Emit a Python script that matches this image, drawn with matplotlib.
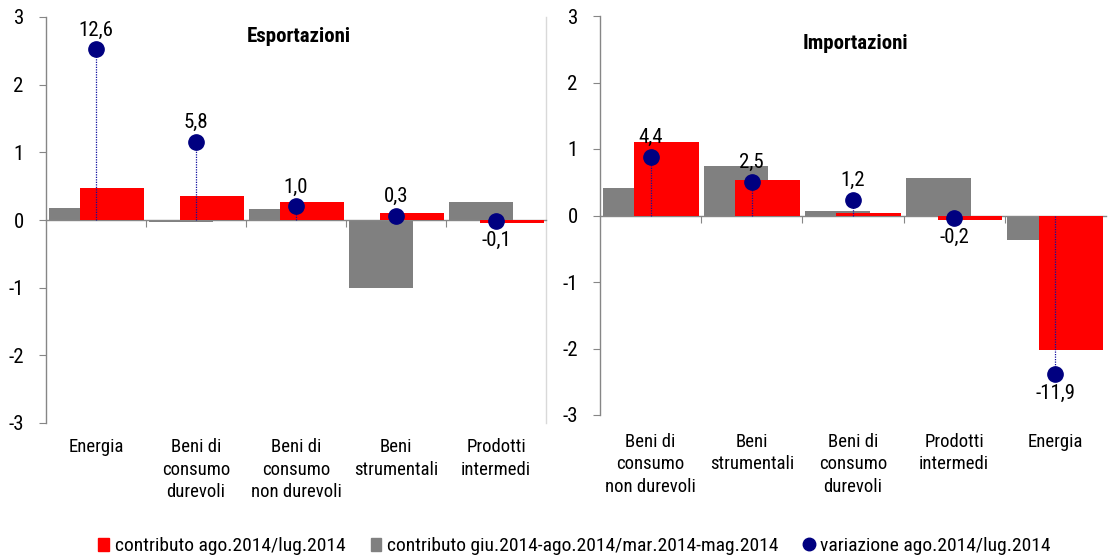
import matplotlib
matplotlib.use('Agg')
import matplotlib.pyplot as plt
import numpy as np
from matplotlib.patches import Patch
from matplotlib.lines import Line2D
import matplotlib.transforms as mtransforms

plt.rcParams['font.family'] = ['Roboto Condensed', 'Liberation Sans', 'DejaVu Sans']
plt.rcParams['axes.unicode_minus'] = False

# ---- data ----
exp_categories = ['Energia', 'Beni di\nconsumo\ndurevoli', 'Beni di\nconsumo\nnon durevoli',
                  'Beni\nstrumentali', 'Prodotti\nintermedi']
exp_contrib_month = [0.47, 0.35, 0.26, 0.11, -0.045]
exp_contrib_3m = [0.17, -0.03, 0.16, -1.01, 0.27]
exp_var = [12.6, 5.8, 1.0, 0.3, -0.1]

imp_categories = ['Beni di\nconsumo\nnon durevoli', 'Beni\nstrumentali', 'Beni di\nconsumo\ndurevoli',
                  'Prodotti\nintermedi', 'Energia']
imp_contrib_month = [1.11, 0.54, 0.04, -0.065, -2.02]
imp_contrib_3m = [0.42, 0.74, 0.075, 0.57, -0.37]
imp_var = [4.4, 2.5, 1.2, -0.2, -11.9]

legend_labels = ['contributo ago.2014/lug.2014',
                 'contributo giu.2014-ago.2014/mar.2014-mag.2014',
                 'variazione ago.2014/lug.2014']

RED = '#FF0000'
GRAY = '#808080'
NAVY = '#000080'
AXC = '#868686'
FS = 15        # numbers
FS_TXT = 13.5  # category words
FS_LEG = 14


def fmt(v):
    return f"{v:.1f}".replace('.', ',')


def panel(ax, cats, red, gray, var, title, tx, ty, label_y, right_line):
    x = np.arange(len(cats))
    ax.bar(x - 0.155, gray, 0.64, color=GRAY, zorder=2)
    ax.bar(x + 0.155, red, 0.64, color=RED, zorder=3)
    ax.set_xlim(-0.5, len(cats) - 0.5)
    ax.set_ylim(-3, 3)
    ax.set_yticks(range(-3, 4))
    ax.spines['bottom'].set_position(('data', 0))
    ax.spines['top'].set_visible(False)
    if right_line:
        ax.spines['right'].set_color('#d9d9d9')
        ax.spines['right'].set_linewidth(1)
    else:
        ax.spines['right'].set_visible(False)
    for s in ('left', 'bottom'):
        ax.spines[s].set_color(AXC)
        ax.spines[s].set_linewidth(1)
    ax.set_xticks(np.arange(len(cats) - 1) + 0.5)
    ax.tick_params(axis='x', direction='out', length=5, color=AXC, labelbottom=False)
    ax.tick_params(axis='y', direction='out', length=5, color=AXC, pad=11, labelsize=FS)
    trans = mtransforms.blended_transform_factory(ax.transData, ax.transAxes)
    for xi, c in zip(x, cats):
        ax.text(xi, label_y, c, transform=trans, ha='center', va='top',
                fontsize=FS_TXT, linespacing=1.32)
    ax.text(tx, ty, title, transform=ax.transAxes, ha='center', va='center',
            fontsize=FS, fontweight='bold')

    ax2 = ax.twinx()
    ax2.set_ylim(-15, 15)
    ax2.axis('off')
    ax2.vlines(x, 0, var, colors='#1010a0', linestyles=(0, (1, 1)), lw=0.9, zorder=4)
    ax2.plot(x, var, 'o', ms=11, color=NAVY, zorder=5)
    for xi, v in zip(x, var):
        ax2.annotate(fmt(v), (xi, v), xytext=(0, 14 if v >= 0 else -14),
                     textcoords='offset points', ha='center', va='center', fontsize=FS)


fig = plt.figure(figsize=(11.08, 5.6), dpi=100)
ax_l = fig.add_axes([46 / 1108, 1 - 423 / 560, 500 / 1108, 406 / 560])
ax_r = fig.add_axes([600 / 1108, 1 - 415 / 560, 506 / 1108, 399 / 560])

panel(ax_l, exp_categories, exp_contrib_month, exp_contrib_3m, exp_var,
      'Esportazioni', 0.506, 0.951, -0.038, True)
panel(ax_r, imp_categories, imp_contrib_month, imp_contrib_3m, imp_var,
      'Importazioni', 0.504, 0.932, -0.044, False)

handles = [Patch(color=RED), Patch(color=GRAY),
           Line2D([], [], marker='o', ls='', color=NAVY, ms=9)]
fig.legend(handles, legend_labels, loc='center', bbox_to_anchor=(574.5 / 1108, 1 - 546 / 560),
           ncol=3, frameon=False, fontsize=FS_LEG, handlelength=0.55, handleheight=0.65,
           handletextpad=0.3, columnspacing=1.3)

fig.savefig('out.png', dpi=100)
